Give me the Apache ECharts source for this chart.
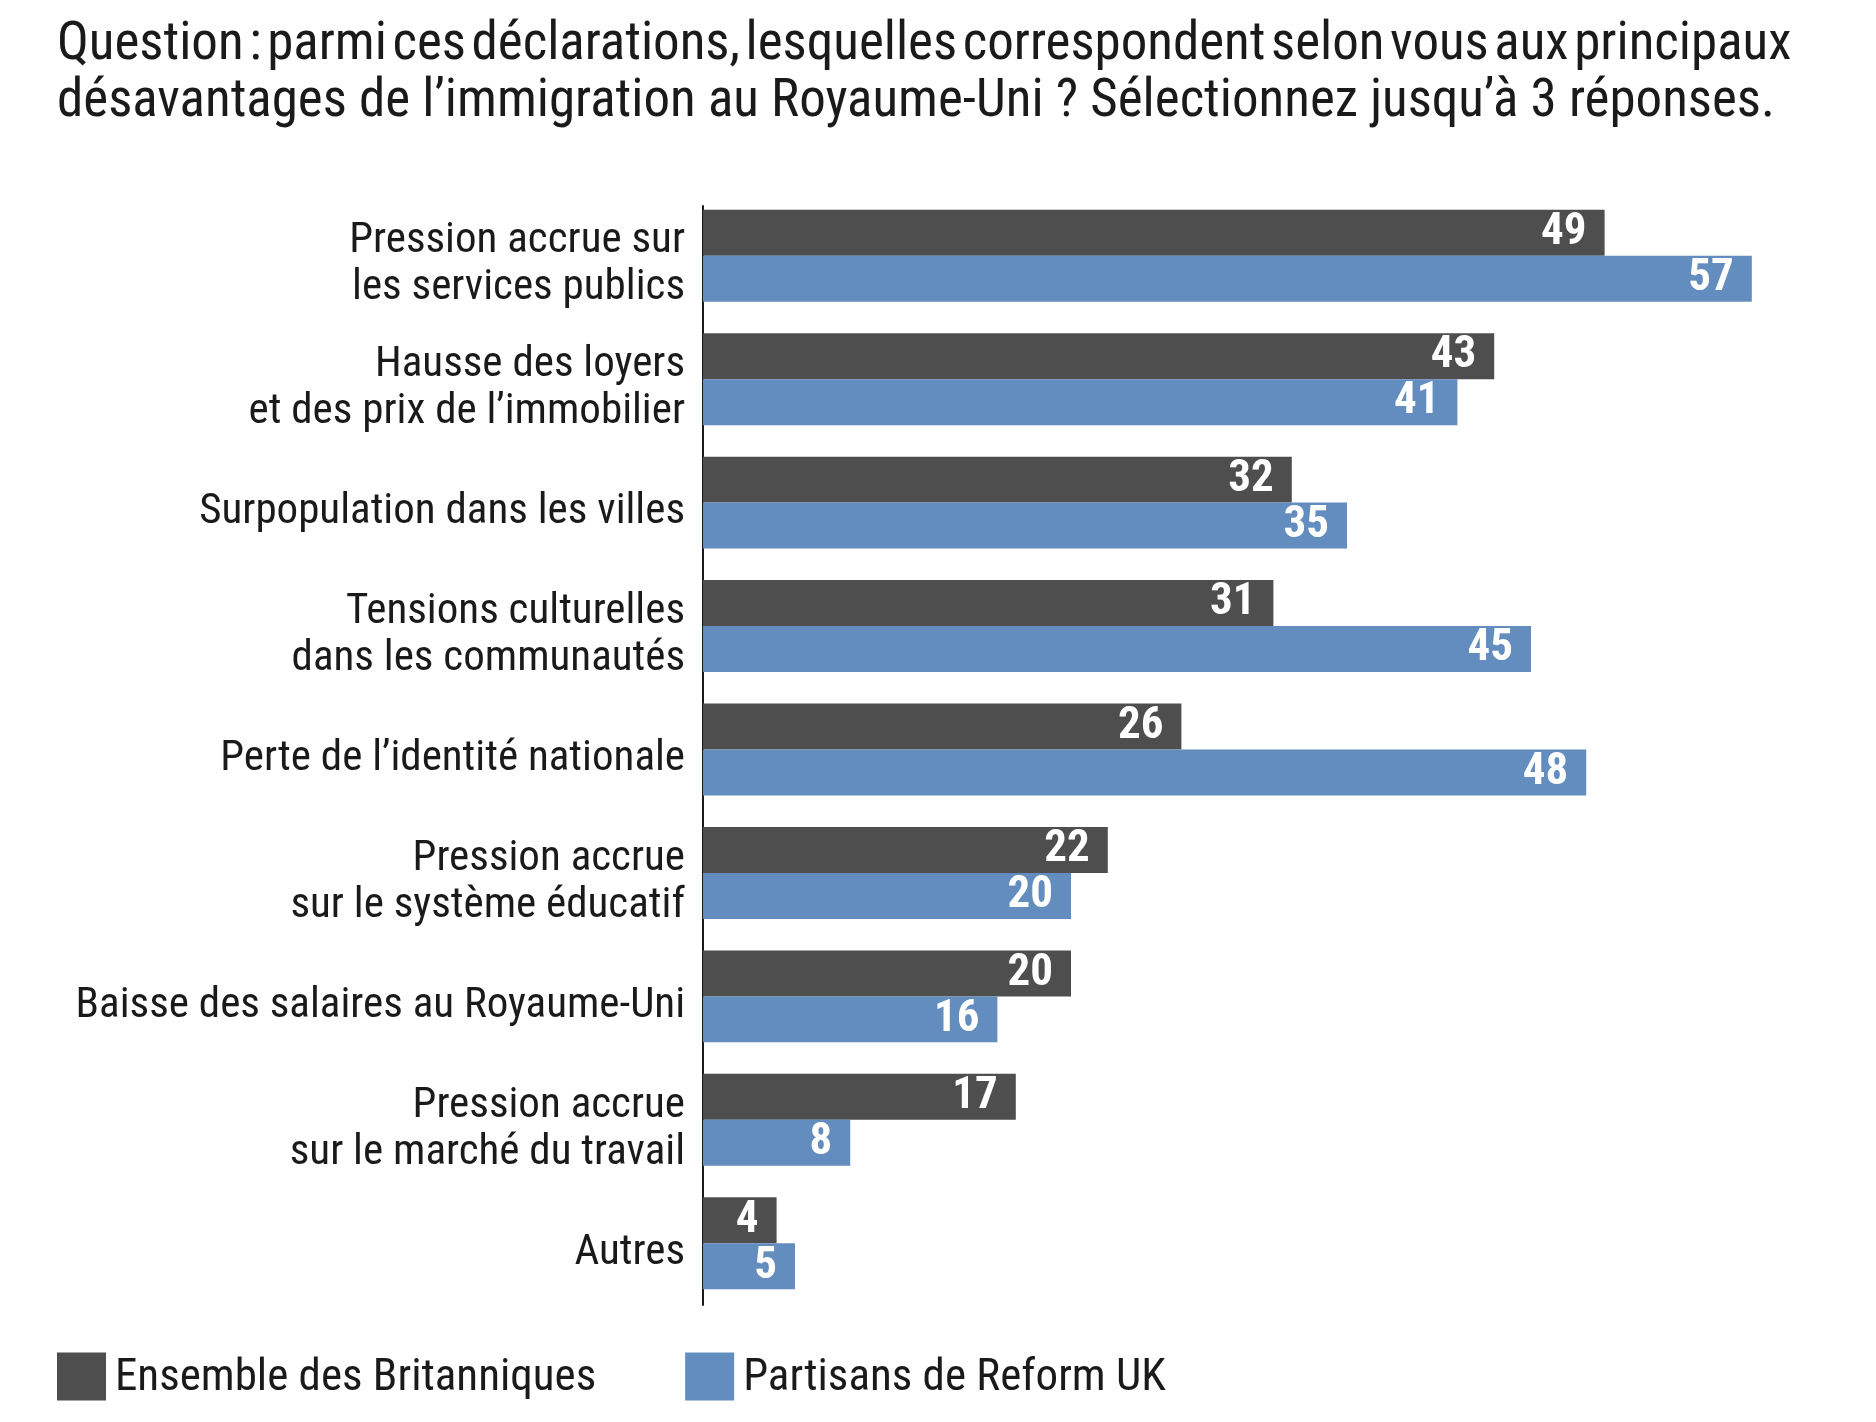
<!DOCTYPE html>
<html>
<head>
<meta charset="utf-8">
<script src="https://cdn.jsdelivr.net/npm/echarts@6/dist/echarts.min.js"></script>
<style>
  html, body { margin: 0; padding: 0; background: #fff; }
  #chart { width: 1876px; height: 1422px; }
</style>
</head>
<body>
<div id="chart"></div>
<script>
var categories = [
  'Pression accrue sur\nles services publics',
  'Hausse des loyers\net des prix de l’immobilier',
  'Surpopulation dans les villes',
  'Tensions culturelles\ndans les communautés',
  'Perte de l’identité nationale',
  'Pression accrue\nsur le système éducatif',
  'Baisse des salaires au Royaume-Uni',
  'Pression accrue\nsur le marché du travail',
  'Autres'
];
var ensembleBritanniques = [49, 43, 32, 31, 26, 22, 20, 17, 4];
var partisansReform = [57, 41, 35, 45, 48, 20, 16, 8, 5];
var seriesNames = ['Ensemble des Britanniques', 'Partisans de Reform UK'];

// the first title line is set tight in the original, hence the hair spaces
var titleLines = [
  'Question\u200A:\u200Aparmi\u200Aces\u200Adéclarations,\u200Alesquelles\u200Acorrespondent\u200Aselon\u200Avous\u200Aaux\u200Aprincipaux',
  'désavantages de l’immigration au Royaume-Uni ? Sélectionnez jusqu’à 3 réponses.'
];

var FONT = '"Roboto Condensed", "DejaVu Sans Condensed", sans-serif';
var DARK = '#4e4e4e';
var BLUE = '#628dbe';
var INK = '#1a1a1a';

var chart = echarts.init(document.getElementById('chart'));

var valueLabel = {
  show: true,
  position: 'insideRight',
  distance: 18,
  color: '#fff',
  fontFamily: FONT,
  fontWeight: 'bold',
  fontSize: 45
};

chart.setOption({
  animation: false,
  backgroundColor: '#fff',
  title: {
    text: titleLines.join('\n'),
    left: 57,
    top: 17,
    padding: 0,
    textStyle: {
      fontFamily: FONT,
      fontWeight: 'normal',
      fontSize: 53,
      lineHeight: 57,
      color: INK
    }
  },
  legend: {
    left: 57,
    top: 1352,
    padding: 0,
    itemWidth: 49,
    itemHeight: 48,
    itemGap: 89,
    icon: 'rect',
    formatter: function (name) {
      return '{t|' + name + '}';
    },
    textStyle: {
      rich: {
        t: {
          fontFamily: FONT,
          fontSize: 45,
          lineHeight: 48,
          color: INK,
          padding: [4, 0, 0, 4]
        }
      }
    },
    data: seriesNames
  },
  grid: [
    { left: 703, right: 69, top: 194, bottom: 117 },
    // only carries the vertical axis line, which starts a little below the first band
    { left: 703, right: 69, top: 206, bottom: 117 }
  ],
  xAxis: [
    { type: 'value', min: 0, max: 60, show: false, gridIndex: 0 },
    { type: 'value', min: 0, max: 60, show: false, gridIndex: 1 }
  ],
  yAxis: [
    {
      type: 'category',
      gridIndex: 0,
      inverse: true,
      data: categories,
      axisLine: { show: false },
      axisTick: { show: false },
      axisLabel: {
        margin: 18,
        align: 'right',
        formatter: function (value) {
          return value.split('\n').map(function (line) {
            return '{c|' + line + '}';
          }).join('\n');
        },
        rich: {
          c: {
            fontFamily: FONT,
            fontSize: 43,
            lineHeight: 47,
            color: INK,
            align: 'right',
            padding: [19, 0, 0, 0]
          }
        }
      }
    },
    {
      type: 'value',
      gridIndex: 1,
      axisLine: { show: true, lineStyle: { color: INK, width: 2 } },
      axisTick: { show: false },
      axisLabel: { show: false },
      splitLine: { show: false }
    }
  ],
  series: [
    {
      name: seriesNames[0],
      type: 'bar',
      data: ensembleBritanniques,
      itemStyle: { color: DARK },
      barGap: '0%',
      barCategoryGap: '25.5%',
      label: valueLabel
    },
    {
      name: seriesNames[1],
      type: 'bar',
      data: partisansReform,
      itemStyle: { color: BLUE },
      barGap: '0%',
      barCategoryGap: '25.5%',
      label: valueLabel
    }
  ]
});
</script>
</body>
</html>
